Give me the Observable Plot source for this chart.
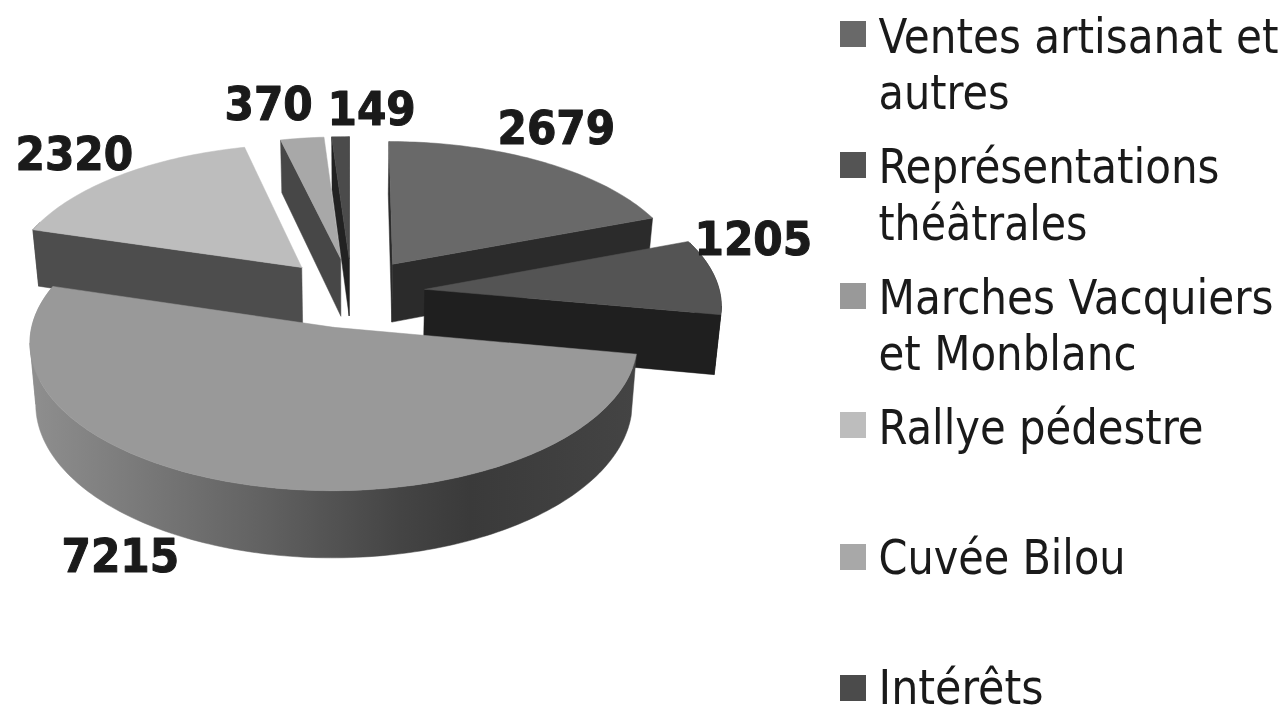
<!DOCTYPE html>
<html lang="fr">
<head>
<meta charset="utf-8">
<style>html,body{margin:0;padding:0;background:#fff}svg{display:block;filter:blur(.6px)}</style>
<script src="https://cdn.jsdelivr.net/npm/d3@7"></script>
<script src="https://cdn.jsdelivr.net/npm/@observablehq/plot@0.6"></script>
</head>
<body>
<script>
// Data
const categories = ["Ventes artisanat et autres","Représentations théâtrales","Marches Vacquiers et Monblanc","Rallye pédestre","Cuvée Bilou","Intérêts"];
const values = [2679,1205,7215,2320,370,149];
const legendLines = [["Ventes artisanat et","autres"],["Représentations","théâtrales"],["Marches Vacquiers","et Monblanc"],["Rallye pédestre"],["Cuvée Bilou"],["Intérêts"]];

// Styles
const topColors = ["#696969","#545454","#999999","#bdbdbd","#a8a8a8","#4b4b4b"];
const faceColors = ["#2b2b2b","#1f1f1f","#3a3a3a","#4d4d4d","#474747","#222222"];
const textColor = "#1a1a1a";
const wallX = [29,120,250,400,470,636];
const wallGrey = ["#8f8f8f","#7d7d7d","#646464","#444444","#3a3a3a","#444444"];
const paintOrder = [0,1,3,4,5,2];

// Layout
const labelX = [497,694,61,15,224,327];
const labelY = [143,254,571,169,119,124];
const legendSwatchY = [21,152,283,412,544,675];
const legendBaselines = [[52,108],[182,239],[313,369],[443],[573],[703]];
const legendEnds = [[1278,1009],[1219,1087],[1273,1136],[1203],[1125],[1043]];
const cam = {cx:351, cy:292, R:295, Q:140, k:0.098, depth:59, narrow:0.018, explode:0.25};
const wallOverlap = 0.35; // radians past the quarter points, where the silhouette still shows wall

// Pie geometry: angles clockwise from the top, perspective-projected
const pie = d3.pie().sort(null)(values);
function project(theta, r, a, z) {
  const u = cam.explode*Math.sin(theta) + r*Math.sin(a);
  const v = cam.explode*Math.cos(theta) + r*Math.cos(a);
  const s = 1/(1 + cam.k*v);
  return {
    x: cam.cx + s*cam.R*u*(1 - cam.narrow*z),
    y: cam.cy - s*cam.Q*v + z*cam.depth*s
  };
}
const shapes = [];
function addShape(id, pts, fill) {
  pts.concat(pts[0]).forEach(p => shapes.push({id, x:p.x, y:p.y, fill}));
}
function arc(theta, a0, a1, z, step=0.02) {
  const n = Math.max(2, Math.ceil((a1-a0)/step));
  return d3.range(n+1).map(i => project(theta, 1, a0+(a1-a0)*i/n, z));
}
for (const i of paintOrder) {
  const {startAngle:a0, endAngle:a1} = pie[i];
  const t = (a0+a1)/2;
  // Outer wall, split where the silhouette turns back so each piece stays a simple polygon
  const lo = Math.max(a0, Math.PI/2 - wallOverlap), hi = Math.min(a1, 3*Math.PI/2 + wallOverlap);
  if (hi > lo) {
    const topEdge = arc(t,lo,hi,0), bottomEdge = arc(t,lo,hi,1);
    const fill = i===2 ? "url(#wallGradient)" : faceColors[i];
    const xs = topEdge.map(p => p.x);
    const cuts = [...new Set([0, d3.maxIndex(xs), d3.minIndex(xs), xs.length-1])].sort((a,b)=>a-b);
    d3.pairs(cuts).forEach(([b,e],j) =>
      addShape(`${i}-wall${j}`, [...topEdge.slice(b,e+1), ...bottomEdge.slice(b,e+1).reverse()], fill));
  }
  // Cut faces, when they look towards the viewer
  const face = (a, sign, tag) => {
    if (Math.cos(a + sign*Math.PI/2) < 0.01) addShape(`${i}-${tag}`, [project(t,0,0,0),project(t,1,a,0),project(t,1,a,1),project(t,0,0,1)], faceColors[i]);
  };
  face(a0,-1,"start");
  face(a1, 1,"end");
  // Top surface
  addShape(`${i}-top`, [project(t,0,0,0), ...arc(t,a0,a1,0)], topColors[i]);
}

// Horizontal shading of the front wall
const wallGradientDefs = () => {
  const svgNS = "http://www.w3.org/2000/svg";
  const defs = document.createElementNS(svgNS,"defs");
  const g = document.createElementNS(svgNS,"linearGradient");
  g.setAttribute("id","wallGradient");
  g.setAttribute("gradientUnits","userSpaceOnUse");
  g.setAttribute("x1",wallX[0]); g.setAttribute("x2",wallX[wallX.length-1]);
  g.setAttribute("y1",0); g.setAttribute("y2",0);
  wallX.forEach((x,i)=>{
    const s = document.createElementNS(svgNS,"stop");
    s.setAttribute("offset",(x-wallX[0])/(wallX[wallX.length-1]-wallX[0]));
    s.setAttribute("stop-color",wallGrey[i]);
    g.append(s);
  });
  defs.append(g);
  return defs;
};

const swatches = categories.map((name,i)=>({name, x1:840, x2:866, y1:legendSwatchY[i], y2:legendSwatchY[i]+26, fill:topColors[i]}));
const legendText = legendLines.flatMap((lines,i)=>lines.map((text,j)=>({text, x:878, y:legendBaselines[i][j], end:legendEnds[i][j]})));
const labels = values.map((v,i)=>({text:String(v), x:labelX[i], y:labelY[i]}));
const family = "'DejaVu Sans Condensed','DejaVu Sans',sans-serif";

const chart = Plot.plot({
  width:1283, height:708, margin:0,
  x:{type:"identity", axis:null}, y:{type:"identity", axis:null},
  color:{type:"identity"},
  marks:[
    wallGradientDefs,
    Plot.line(shapes,{x:"x",y:"y",z:"id",fill:"fill",stroke:"fill",strokeWidth:0.5,curve:"linear"}),
    Plot.rect(swatches,{x1:"x1",x2:"x2",y1:"y1",y2:"y2",fill:"fill"}),
    Plot.text(legendText,{x:"x",y:"y",text:"text",textAnchor:"start",lineAnchor:"bottom",fontSize:47.5,fontFamily:family,fill:textColor,
      render(index, scales, values, dims, ctx, next) {
        const g = next(index, scales, values, dims, ctx);
        g.querySelectorAll("text").forEach((el,k)=>{
          const d = legendText[index[k]];
          el.setAttribute("textLength", d.end - d.x);
          el.setAttribute("lengthAdjust","spacingAndGlyphs");
        });
        return g;
      }}),
    Plot.text(labels,{x:"x",y:"y",text:"text",textAnchor:"start",lineAnchor:"bottom",fontSize:47,fontWeight:"bold",fontFamily:family,fill:textColor,stroke:textColor,strokeWidth:1})
  ]
});
document.body.append(chart);
</script>
</body>
</html>
